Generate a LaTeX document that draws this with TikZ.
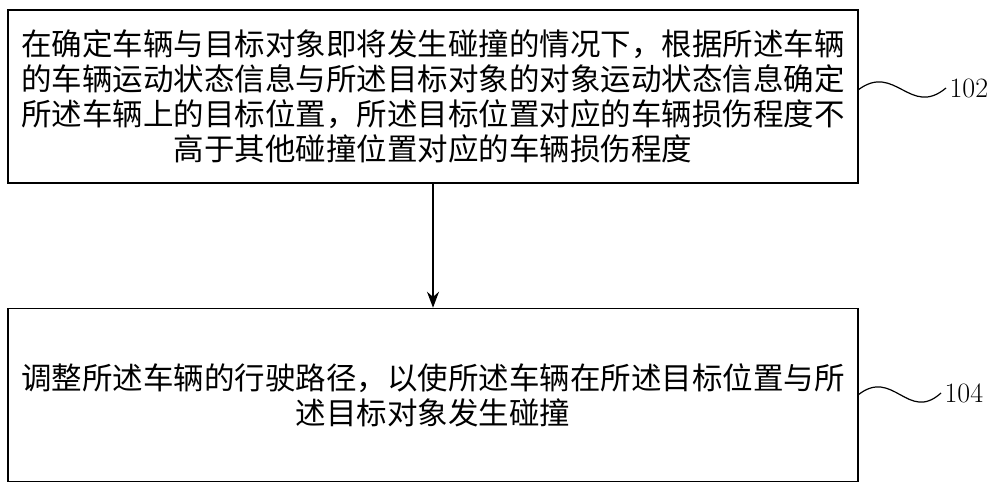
\documentclass[tikz,border=0pt]{standalone}
\usepackage{fontspec}
\newfontfamily\cjk{Noto Sans CJK SC}
\usetikzlibrary{arrows.meta}
\begin{document}
\begin{tikzpicture}[x=1pt,y=-1pt,
  stepbox/.style={draw,line width=1.5pt,minimum width=850pt,minimum height=173pt,align=center,font=\cjk\fontsize{30.5}{35}\selectfont,inner sep=0pt},
  lbl/.style={font=\fontsize{28}{32}\selectfont,anchor=west}]
\useasboundingbox (0,0) rectangle (1000,490);
\node[stepbox] (b1) at (433,96.5) {在确定车辆与目标对象即将发生碰撞的情况下，根据所述车辆\\的车辆运动状态信息与所述目标对象的对象运动状态信息确定\\所述车辆上的目标位置，所述目标位置对应的车辆损伤程度不\\高于其他碰撞位置对应的车辆损伤程度};
\node[stepbox] (b2) at (433,395) {调整所述车辆的行驶路径，以使所述车辆在所述目标位置与所\\述目标对象发生碰撞};
\draw[line width=1.5pt,-{Stealth[length=16pt,width=12pt]}] (b1.south) -- (b2.north);
\node[lbl] (l1) at (946,88) {102};
\node[lbl] (l2) at (941,393) {104};
\draw[line width=1.2pt] (858,90) .. controls (895,62) and (910,118) .. (l1.west);
\draw[line width=1.2pt] (858,395) .. controls (893,367) and (908,423) .. (l2.west);
\end{tikzpicture}
\end{document}
